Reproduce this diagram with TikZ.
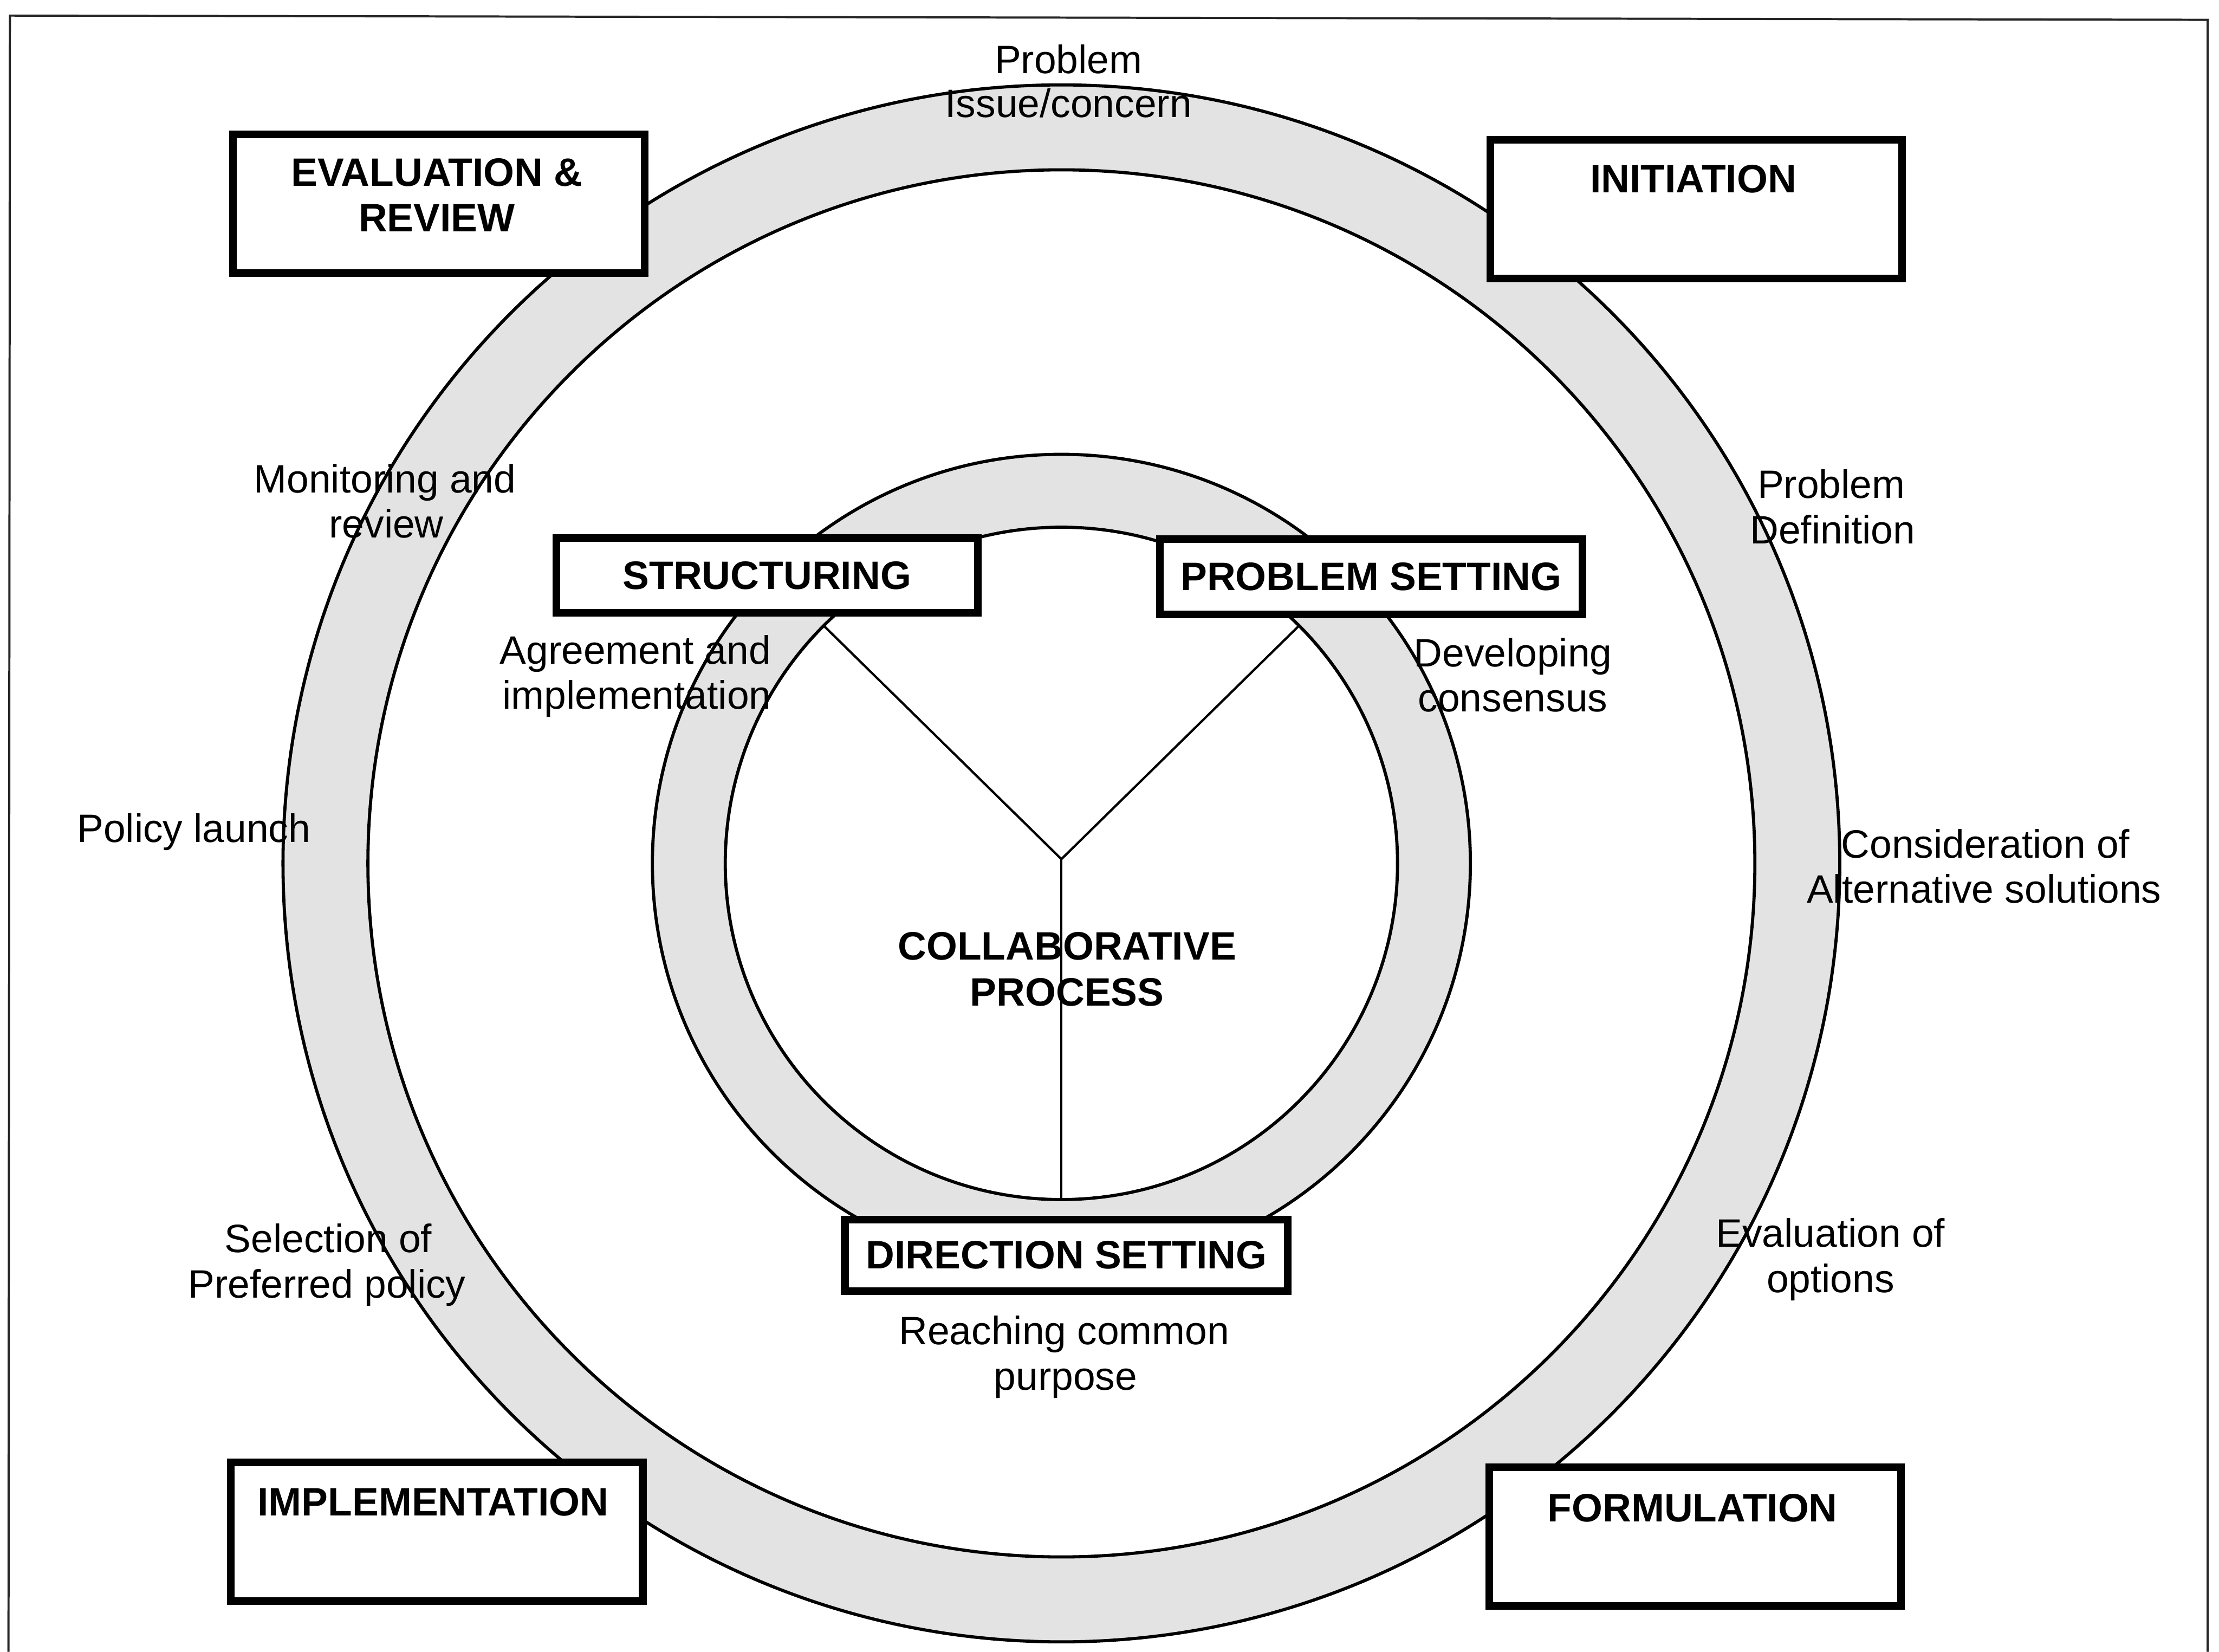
\documentclass[tikz,border=0pt]{standalone}
\usepackage{fontspec}
\setmainfont{Liberation Sans}
\begin{document}
\begin{tikzpicture}[x=0.03cm,y=-0.03cm,
  lbl/.style={font=\fontsize{23.9}{27}\selectfont, anchor=base, inner sep=0pt},
  blbl/.style={font=\fontsize{23.9}{27}\selectfont\bfseries, anchor=base, inner sep=0pt},
  bigbox/.style={draw, line width=4.6pt, fill=white, minimum width=8.73cm, minimum height=2.94cm, inner sep=0pt},
  smallbox/.style={draw, line width=4.6pt, fill=white, minimum height=1.59cm, inner sep=0pt, font=\fontsize{23.9}{27}\selectfont\bfseries},
  ringline/.style={line width=1.9pt},
  ringfill/.style={fill=black!11, even odd rule},
  spoke/.style={line width=1.4pt},
  frameline/.style={line width=1.3pt, black!85}]
\useasboundingbox (0,0) rectangle (1568,1167);
\fill[white] (0,0) rectangle (1568,1167);
% frame (open at the bottom)
\coordinate (fbl) at (6,1167);
\coordinate (ftl) at (7,11);
\coordinate (ftr) at (1560,14);
\coordinate (fbr) at (1560,1167);
\draw[frameline] (fbl) -- (ftl) -- (ftr) -- (fbr);
% rings
\coordinate (c) at (750,610);
\fill[ringfill] (c) circle[radius=16.5cm] (c) circle[radius=14.7cm];
\draw[ringline] (c) circle[radius=16.5cm];
\draw[ringline] (c) circle[radius=14.7cm];
\fill[ringfill] (c) circle[radius=8.67cm] (c) circle[radius=7.125cm];
\draw[ringline] (c) circle[radius=8.67cm];
\draw[ringline] (c) circle[radius=7.125cm];
% spokes
\coordinate (hub) at (750,607);
\coordinate (sl) at (582,442);
\coordinate (sr) at (918,442);
\coordinate (sb) at (750,847.5);
\draw[spoke] (sl) -- (hub) -- (sr);
\draw[spoke] (hub) -- (sb);
% boxes
\node[bigbox] (evalbox) at (310,144) {};
\node[bigbox] (initbox) at (1198.5,147.8) {};
\node[bigbox] (implbox) at (308.7,1082.2) {};
\node[bigbox] (formbox) at (1197.8,1085.5) {};
\node[smallbox, minimum width=8.94cm] (structbox) at (542,406.5) {STRUCTURING};
\node[smallbox, minimum width=8.955cm] (probbox) at (968.8,407.5) {PROBLEM SETTING};
\node[smallbox, minimum width=9.39cm, minimum height=1.515cm] (dirbox) at (753.5,886.8) {DIRECTION SETTING};
% box titles
\node[blbl] (evalt1) at (308.7,131.5) {EVALUATION \&};
\node[blbl] (evalt2) at (308.7,163.5) {REVIEW};
\node[blbl] (initt) at (1196.5,136) {INITIATION};
\node[blbl] (implt) at (306,1071) {IMPLEMENTATION};
\node[blbl] (formt) at (1196,1075) {FORMULATION};
\node[blbl] (collab1) at (754,678) {COLLABORATIVE};
\node[blbl] (collab2) at (754,710.5) {PROCESS};
% outer labels
\node[lbl] (pi1) at (755,52) {Problem};
\node[lbl] (pi2) at (755,83) {Issue/concern};
\node[lbl] (mr1) at (272,348) {Monitoring and};
\node[lbl] (mr2) at (273,380) {review};
\node[lbl] (pl) at (137,595) {Policy launch};
\node[lbl] (sp1) at (232,885) {Selection of};
\node[lbl] (sp2) at (231,917) {Preferred policy};
\node[lbl] (pd1) at (1294,352) {Problem};
\node[lbl] (pd2) at (1295,384) {Definition};
\node[lbl] (ca1) at (1403,606) {Consideration of};
\node[lbl] (ca2) at (1402,638) {Alternative solutions};
\node[lbl] (eo1) at (1293.5,881) {Evaluation of};
\node[lbl] (eo2) at (1293.5,913) {options};
% inner labels
\node[lbl] (ai1) at (449,469) {Agreement and};
\node[lbl] (ai2) at (450,501) {implementation};
\node[lbl] (dc1) at (1069,471) {Developing};
\node[lbl] (dc2) at (1069,503) {consensus};
\node[lbl] (rc1) at (752,950) {Reaching common};
\node[lbl] (rc2) at (753,982) {purpose};
\end{tikzpicture}
\end{document}
